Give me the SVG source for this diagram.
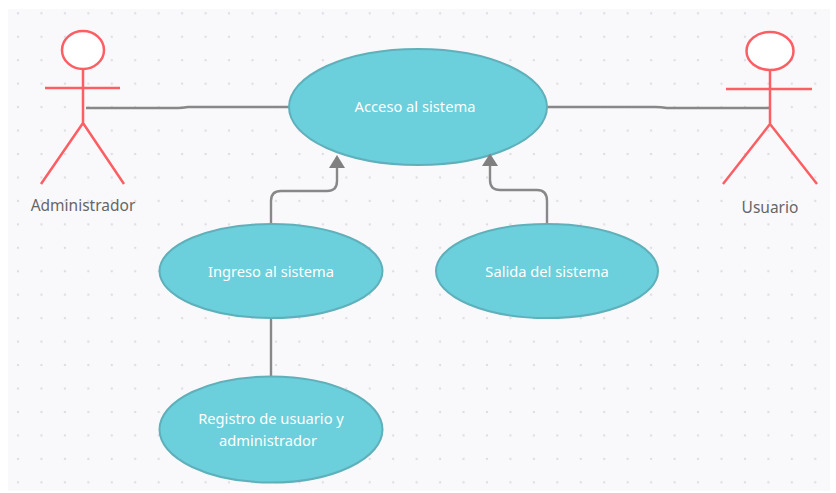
<svg xmlns="http://www.w3.org/2000/svg" width="836" height="493" viewBox="0 0 836 493">
<style>
.uc{fill:#6bcfdc;stroke:#5fb0ba;stroke-width:2}
.act{fill:none;stroke:#fb5f64;stroke-width:2.5;stroke-linecap:butt;stroke-linejoin:round}
.head{fill:#fff;stroke:#fb5f64;stroke-width:2.5}
.con{fill:none;stroke:#888;stroke-width:2.4}
.ar{fill:#808080}
.t{font-family:"Noto Sans","Open Sans",sans-serif;font-size:14.7px;fill:#fff;text-anchor:middle}
.l{font-family:"Noto Sans","Open Sans",sans-serif;font-size:15.500px;fill:#666;text-anchor:middle}
</style>
<defs>
<pattern id="dots" x="18" y="13.3" width="23.45" height="23.45" patternUnits="userSpaceOnUse">
<circle cx="0" cy="0" r="1.2" fill="#dedee2"/><circle cx="23.45" cy="0" r="1.2" fill="#dedee2"/><circle cx="0" cy="23.45" r="1.2" fill="#dedee2"/><circle cx="23.45" cy="23.45" r="1.2" fill="#dedee2"/>
</pattern>
</defs>
<rect width="836" height="493" fill="#fff"/>
<rect x="8" y="9" width="822" height="482" fill="#f9f9fc"/>
<rect x="8" y="9" width="822" height="482" fill="url(#dots)"/>
<g id="connectors">
<path class="con" d="M86 108H178Q182 108 188 107H289"/>
<path class="con" d="M547 107H655Q661 107 667 108H769"/>
<path class="con" d="M271 225V201Q271 191 281 191H327Q337 191 337 181V166"/>
<path class="con" d="M547 225V201Q547 190 537 190H500Q490 190 490 180V165"/>
<path class="con" d="M271 318V377"/>
</g>
<g id="uc-acceso"><ellipse class="uc" cx="418" cy="107" rx="129" ry="58"/><text class="t" x="415" y="112">Acceso al sistema</text></g>
<g id="uc-ingreso"><ellipse class="uc" cx="271" cy="271" rx="111.500" ry="47"/><text class="t" x="271" y="277">Ingreso al sistema</text></g>
<g id="uc-salida"><ellipse class="uc" cx="547" cy="271" rx="111" ry="47"/><text class="t" x="547" y="277">Salida del sistema</text></g>
<g id="uc-registro"><ellipse class="uc" cx="271" cy="429.500" rx="111.500" ry="53"/><text class="t" x="271" y="424">Registro de usuario y</text><text class="t" x="268" y="446">administrador</text></g>
<g id="actor-admin"><ellipse class="head" cx="83" cy="50" rx="21" ry="19"/><path class="act" d="M83 69V123M45 88H120M83 123L41 184M83 123L124 184"/><text class="l" x="83" y="211">Administrador</text></g>
<g id="actor-usuario"><ellipse class="head" cx="770" cy="51" rx="23.500" ry="19"/><path class="act" d="M770 70V124M726 89H812M770 124L723 184M770 124L817 184"/><text class="l" x="770" y="213">Usuario</text></g>
<g id="arrowheads">
<polygon class="ar" points="337,155 345,168 329,168"/>
<polygon class="ar" points="490,153.500 498,166 482,166"/>
</g>
</svg>
